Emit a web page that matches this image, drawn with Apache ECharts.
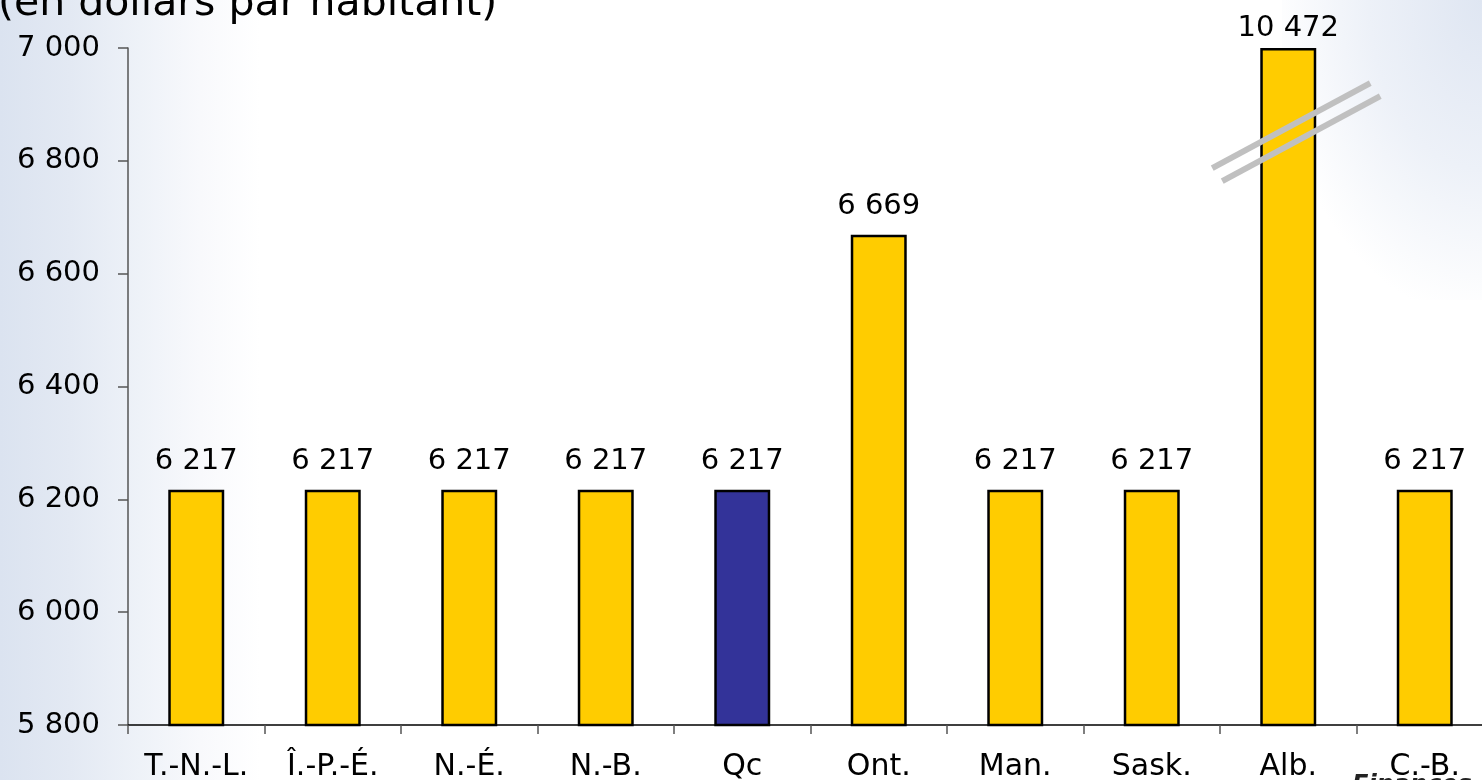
<!DOCTYPE html>
<html><head><meta charset="utf-8">
<script src="https://cdn.jsdelivr.net/npm/echarts@6/dist/echarts.min.js"></script>
<style>
html,body{margin:0;padding:0;width:1482px;height:780px;overflow:hidden;
background:linear-gradient(to right,#dbe3f0 0px,#e3e9f3 70px,#eef2f8 140px,#f8f9fc 200px,#ffffff 260px,#ffffff 100%);}
#bgR{position:absolute;right:0;top:0;width:200px;height:300px;
background:radial-gradient(ellipse at 100% 0%,#dfe6f2 0%,#edf1f8 40%,rgba(255,255,255,0) 75%);}
#c{position:absolute;left:0;top:0;width:1482px;height:780px;}
</style></head>
<body><div id="bgR"></div><div id="c"></div>
<script>
const categories = ['T.-N.-L.','Î.-P.-É.','N.-É.','N.-B.','Qc','Ont.','Man.','Sask.','Alb.','C.-B.'];
const values = [6217,6217,6217,6217,6217,6669,6217,6217,10472,6217];
const highlight = 'Qc';
const yTicks = {min:5800,max:7000,interval:200};
const titleText = '(en dollars par habitant)';

const fmt = v => String(Math.round(v)).replace(/\B(?=(\d{3})+(?!\d))/g,' ');
const FONT = '"DejaVu Sans", sans-serif';

const chart = echarts.init(document.getElementById('c'), null, {renderer:'canvas'});
const seriesData = values.map((v,i)=>({
  value: Math.min(v, yTicks.max),
  raw: v,
  itemStyle: {color: categories[i]===highlight ? '#333399' : '#FFCC00'},
  label: v>yTicks.max ? {distance:5} : undefined
}));

const baseGraphic = [
  {type:'text',z:10,style:{text:titleText,x:-2,y:4,verticalAlign:'middle',align:'left',font:'41px '+FONT,fill:'#000'}},
  {type:'text',z:-1,style:{text:'Finances',x:1352,y:786,verticalAlign:'middle',align:'left',font:'italic bold 24px '+FONT,fill:'#222'}}
];

chart.setOption({
  animation:false,
  backgroundColor:'transparent',
  grid:{left:128,top:48,right:-11,bottom:55,containLabel:false,outerBoundsMode:'none'},
  xAxis:{type:'category',data:categories,
    axisLine:{lineStyle:{color:'#000',width:1.5}},
    axisTick:{show:true,alignWithLabel:false,length:9,lineStyle:{color:'#555',width:1.5}},
    axisLabel:{color:'#000',fontFamily:FONT,fontSize:30,margin:27,interval:0,hideOverlap:false},
    splitLine:{show:false}},
  yAxis:{type:'value',min:yTicks.min,max:yTicks.max,interval:yTicks.interval,
    axisLine:{show:true,lineStyle:{color:'#555',width:1.5}},
    axisTick:{show:true,length:10,lineStyle:{color:'#555',width:1.5}},
    axisLabel:{color:'#000',fontFamily:FONT,fontSize:29,margin:28,formatter:fmt,hideOverlap:false},
    splitLine:{show:false}},
  series:[{type:'bar',data:seriesData,barWidth:'41%',clip:true,
    itemStyle:{borderColor:'#000',borderWidth:2.5},
    label:{show:true,position:'top',distance:14,color:'#000',fontFamily:FONT,fontSize:29,
      formatter:p=>fmt(p.data.raw)}}],
  graphic: baseGraphic
});

// break marks on the capped bar
const idx = values.findIndex(v=>v>yTicks.max);
if(idx>=0){
  const p = chart.convertToPixel({seriesIndex:0},[idx,6851]);
  const cx = p[0]+8, cy = p[1];
  chart.setOption({graphic: baseGraphic.concat([
    {type:'line',z:100,shape:{x1:cx-84,y1:cy+36,x2:cx+74,y2:cy-49},style:{stroke:'#c0c0c0',lineWidth:6}},
    {type:'line',z:100,shape:{x1:cx-74,y1:cy+49,x2:cx+84,y2:cy-36},style:{stroke:'#c0c0c0',lineWidth:6}}
  ])}, {replaceMerge:['graphic']});
}
</script></body></html>
